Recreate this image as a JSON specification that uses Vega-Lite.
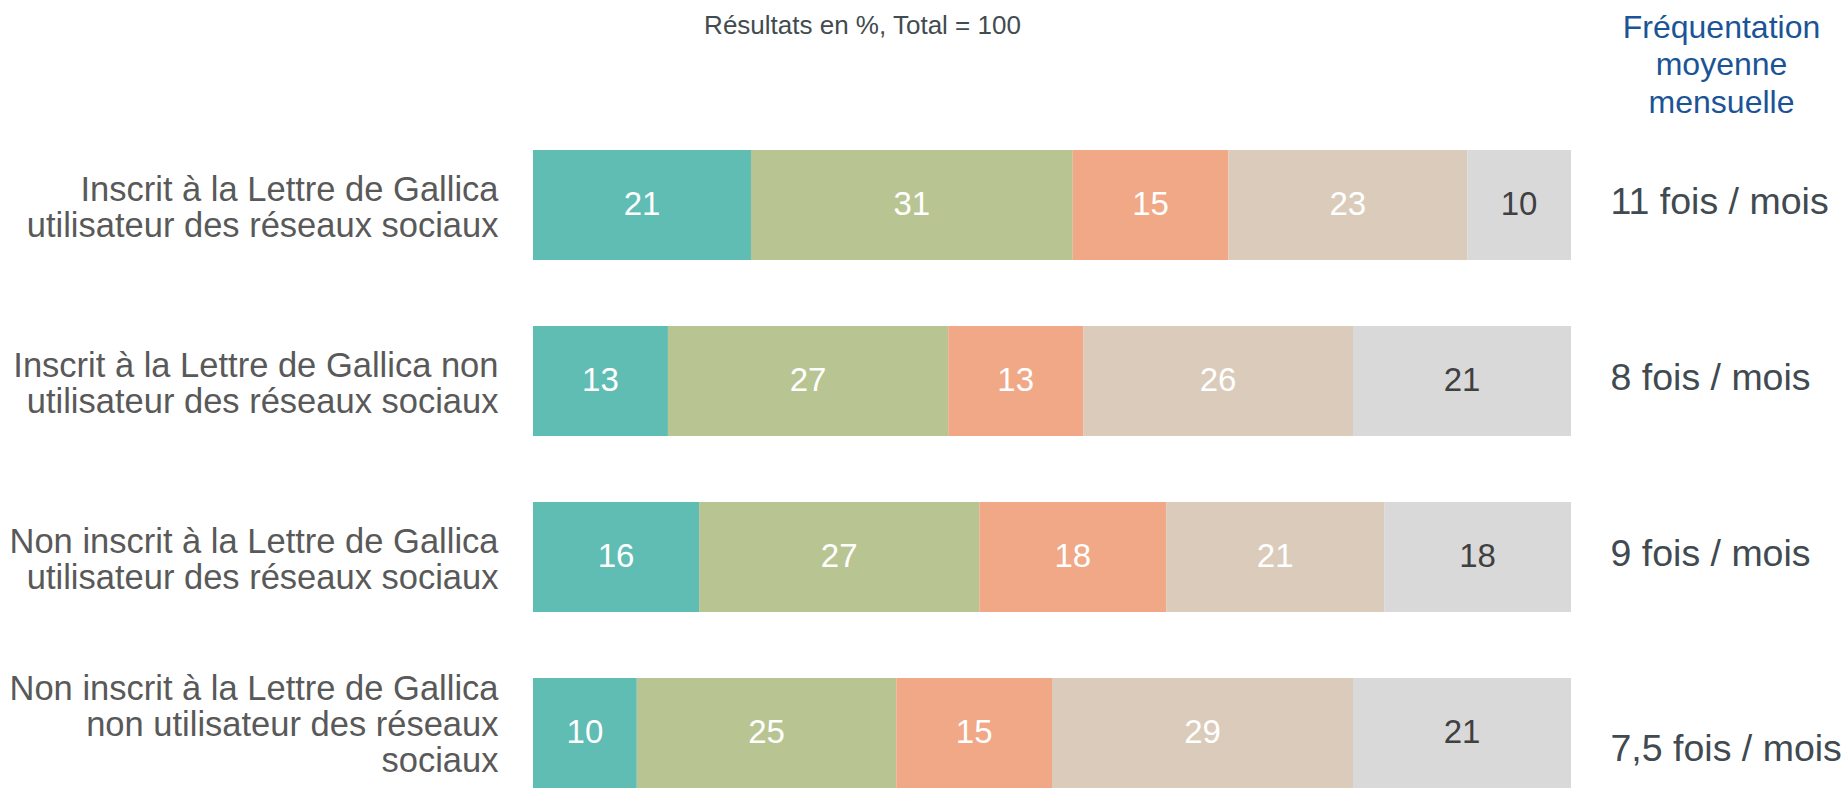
{
  "$schema": "https://vega.github.io/schema/vega-lite/v6.json",
  "autosize": {"type": "none"},
  "width": 1038,
  "height": 638,
  "padding": {"left": 533, "top": 150, "right": 276, "bottom": 0},
  "config": {"font": "Liberation Sans", "view": {"stroke": null}},
  "data": {
    "values": [
      {"label": "Inscrit à la Lettre de Gallica|utilisateur des réseaux sociaux", "freq": "11 fois / mois", "cat": "c1", "value": 21},
      {"label": "Inscrit à la Lettre de Gallica|utilisateur des réseaux sociaux", "freq": "11 fois / mois", "cat": "c2", "value": 31},
      {"label": "Inscrit à la Lettre de Gallica|utilisateur des réseaux sociaux", "freq": "11 fois / mois", "cat": "c3", "value": 15},
      {"label": "Inscrit à la Lettre de Gallica|utilisateur des réseaux sociaux", "freq": "11 fois / mois", "cat": "c4", "value": 23},
      {"label": "Inscrit à la Lettre de Gallica|utilisateur des réseaux sociaux", "freq": "11 fois / mois", "cat": "c5", "value": 10},
      {"label": "Inscrit à la Lettre de Gallica non|utilisateur des réseaux sociaux", "freq": "8 fois / mois", "cat": "c1", "value": 13},
      {"label": "Inscrit à la Lettre de Gallica non|utilisateur des réseaux sociaux", "freq": "8 fois / mois", "cat": "c2", "value": 27},
      {"label": "Inscrit à la Lettre de Gallica non|utilisateur des réseaux sociaux", "freq": "8 fois / mois", "cat": "c3", "value": 13},
      {"label": "Inscrit à la Lettre de Gallica non|utilisateur des réseaux sociaux", "freq": "8 fois / mois", "cat": "c4", "value": 26},
      {"label": "Inscrit à la Lettre de Gallica non|utilisateur des réseaux sociaux", "freq": "8 fois / mois", "cat": "c5", "value": 21},
      {"label": "Non inscrit à la Lettre de Gallica|utilisateur des réseaux sociaux", "freq": "9 fois / mois", "cat": "c1", "value": 16},
      {"label": "Non inscrit à la Lettre de Gallica|utilisateur des réseaux sociaux", "freq": "9 fois / mois", "cat": "c2", "value": 27},
      {"label": "Non inscrit à la Lettre de Gallica|utilisateur des réseaux sociaux", "freq": "9 fois / mois", "cat": "c3", "value": 18},
      {"label": "Non inscrit à la Lettre de Gallica|utilisateur des réseaux sociaux", "freq": "9 fois / mois", "cat": "c4", "value": 21},
      {"label": "Non inscrit à la Lettre de Gallica|utilisateur des réseaux sociaux", "freq": "9 fois / mois", "cat": "c5", "value": 18},
      {"label": "Non inscrit à la Lettre de Gallica|non utilisateur des réseaux|sociaux", "freq": "7,5 fois / mois", "cat": "c1", "value": 10},
      {"label": "Non inscrit à la Lettre de Gallica|non utilisateur des réseaux|sociaux", "freq": "7,5 fois / mois", "cat": "c2", "value": 25},
      {"label": "Non inscrit à la Lettre de Gallica|non utilisateur des réseaux|sociaux", "freq": "7,5 fois / mois", "cat": "c3", "value": 15},
      {"label": "Non inscrit à la Lettre de Gallica|non utilisateur des réseaux|sociaux", "freq": "7,5 fois / mois", "cat": "c4", "value": 29},
      {"label": "Non inscrit à la Lettre de Gallica|non utilisateur des réseaux|sociaux", "freq": "7,5 fois / mois", "cat": "c5", "value": 21}
    ]
  },
  "layer": [
    {
      "mark": {"type": "bar"},
      "encoding": {
        "y": {
          "field": "label",
          "type": "nominal",
          "sort": null,
          "scale": {"type": "band", "paddingInner": 0.375, "paddingOuter": 0},
          "axis": {
            "orient": "left",
            "title": null,
            "ticks": false,
            "domain": false,
            "labelExpr": "split(datum.value, '|')",
            "labelFontSize": 34.5,
            "labelLineHeight": 36,
            "labelColor": "#595959",
            "labelPadding": 35,
            "labelLimit": 700,
            "labelOffset": {"condition": {"test": "length(split(datum.value, '|')) > 2", "value": -43}, "value": -14}
          }
        },
        "x": {
          "field": "value",
          "type": "quantitative",
          "stack": "zero",
          "scale": {"domain": [0, 100], "nice": false},
          "axis": {
            "orient": "top",
            "labels": false,
            "ticks": false,
            "domain": false,
            "grid": false,
            "title": "Résultats en %, Total = 100",
            "titleX": 329,
            "titleY": -117,
            "titleAlign": "center",
            "titleBaseline": "alphabetic",
            "titleFontSize": 26,
            "titleFontWeight": "normal",
            "titleColor": "#414B50"
          }
        },
        "color": {
          "field": "cat",
          "type": "nominal",
          "scale": {
            "domain": ["c1", "c2", "c3", "c4", "c5"],
            "range": ["#5FBDB4", "#B8C592", "#F0A886", "#DBCBBB", "#D9D9D9"]
          },
          "legend": null
        },
        "order": {"field": "cat"}
      }
    },
    {
      "mark": {"type": "text", "fontSize": 33, "baseline": "middle", "align": "center"},
      "encoding": {
        "y": {
          "field": "freq",
          "type": "nominal",
          "sort": null,
          "scale": {"type": "band", "paddingInner": 0.375, "paddingOuter": 0},
          "axis": {
            "orient": "right",
            "ticks": false,
            "domain": false,
            "labelFontSize": 37.5,
            "labelColor": "#404A50",
            "labelPadding": 39,
            "labelLimit": 400,
            "labelOffset": {"condition": {"test": "datum.value === '7,5 fois / mois'", "value": 17}, "value": -2},
            "title": ["Fréquentation", "moyenne", "mensuelle"],
            "titleAngle": 0,
            "titleX": 150,
            "titleY": -113,
            "titleAlign": "center",
            "titleBaseline": "alphabetic",
            "titleFontSize": 32,
            "titleFontWeight": "normal",
            "titleColor": "#1B5496",
            "titleLineHeight": 37.5
          }
        },
        "x": {
          "field": "value",
          "type": "quantitative",
          "stack": "zero",
          "bandPosition": 0.5,
          "axis": {
            "orient": "top",
            "labels": false,
            "ticks": false,
            "domain": false,
            "grid": false,
            "title": "Résultats en %, Total = 100",
            "titleX": 329,
            "titleY": -117,
            "titleAlign": "center",
            "titleBaseline": "alphabetic",
            "titleFontSize": 26,
            "titleFontWeight": "normal",
            "titleColor": "#414B50"
          }
        },
        "detail": {"field": "cat"},
        "order": {"field": "cat"},
        "text": {"field": "value"},
        "color": {"condition": {"test": "datum.cat === 'c5'", "value": "#404040"}, "value": "#ffffff"}
      }
    }
  ],
  "resolve": {"scale": {"y": "independent"}, "axis": {"y": "independent"}}
}
